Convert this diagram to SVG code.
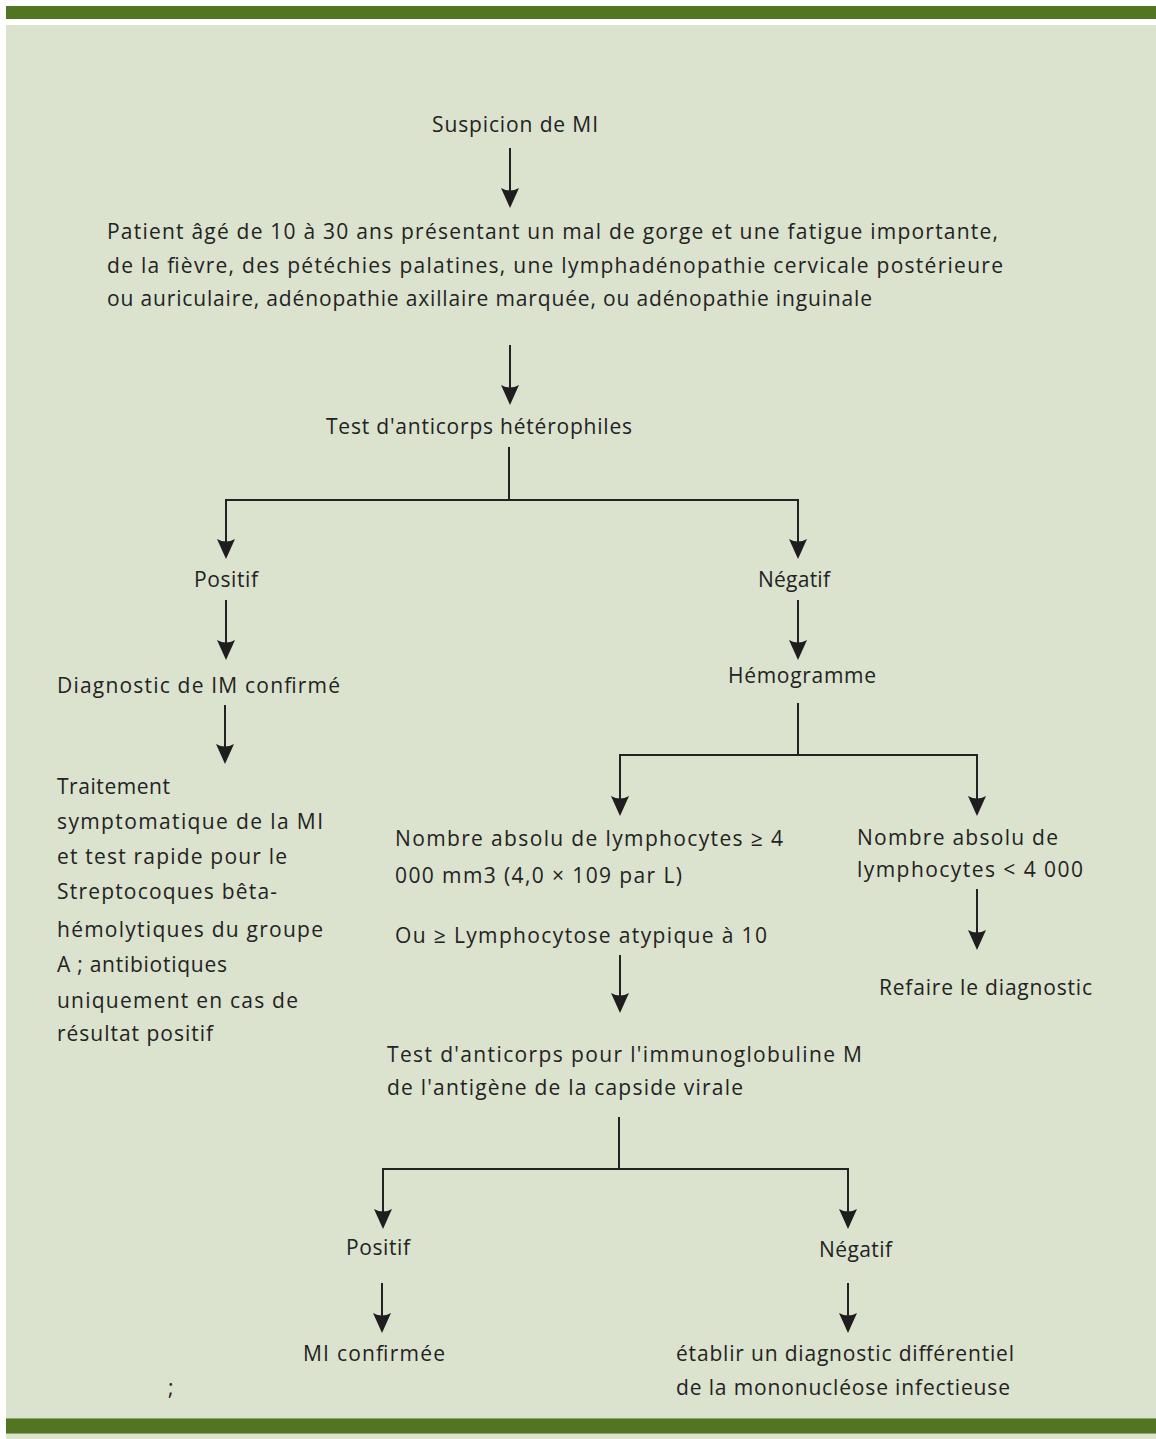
<svg xmlns="http://www.w3.org/2000/svg" width="1156" height="1439" viewBox="0 0 1156 1439">
<style>
  text { font-family: "Open Sans", "Liberation Sans", sans-serif; font-size: 21px; fill: #232323; }
  .ln { stroke: #222; stroke-width: 2; fill: none; }
  .ah { fill: #1e1e1e; }
</style>
<defs>
  <path id="head" d="M-9,-20 Q0,-15 9,-20 L0,0 Z"/>
</defs>
<rect x="0" y="0" width="1156" height="1439" fill="#ffffff"/>
<rect x="6" y="25" width="1150" height="1414" fill="#dbe2cd"/>
<rect x="6" y="6" width="1150" height="13" fill="#517521"/>
<rect x="6" y="1418" width="1150" height="16" fill="#517521"/>
<line x1="6" y1="1418.5" x2="1156" y2="1418.5" stroke="#8ea46c" stroke-width="1"/>
<line x1="6" y1="1433.5" x2="1156" y2="1433.5" stroke="#8ea46c" stroke-width="1"/>

<g id="connectors">
  <line class="ln" x1="510" y1="148" x2="510" y2="192"/>
  <use href="#head" class="ah" x="510" y="208"/>
  <line class="ln" x1="510" y1="345" x2="510" y2="389"/>
  <use href="#head" class="ah" x="510" y="405"/>
  <polyline class="ln" points="509,447 509,500"/>
  <polyline class="ln" points="226,543 226,500 798,500 798,543"/>
  <use href="#head" class="ah" x="226" y="559"/>
  <use href="#head" class="ah" x="798" y="559"/>
  <line class="ln" x1="226" y1="600" x2="226" y2="644"/>
  <use href="#head" class="ah" x="226" y="660"/>
  <line class="ln" x1="798" y1="600" x2="798" y2="644"/>
  <use href="#head" class="ah" x="798" y="660"/>
  <line class="ln" x1="225" y1="705" x2="225" y2="748"/>
  <use href="#head" class="ah" x="225" y="764"/>
  <polyline class="ln" points="798,703 798,755"/>
  <polyline class="ln" points="620,800 620,755 977,755 977,800"/>
  <use href="#head" class="ah" x="620" y="816"/>
  <use href="#head" class="ah" x="977" y="816"/>
  <line class="ln" x1="977" y1="889" x2="977" y2="934"/>
  <use href="#head" class="ah" x="977" y="950"/>
  <line class="ln" x1="620" y1="955" x2="620" y2="997"/>
  <use href="#head" class="ah" x="620" y="1013"/>
  <polyline class="ln" points="619,1117 619,1169"/>
  <polyline class="ln" points="383,1213 383,1169 848,1169 848,1213"/>
  <use href="#head" class="ah" x="383" y="1229"/>
  <use href="#head" class="ah" x="848" y="1229"/>
  <line class="ln" x1="382" y1="1283" x2="382" y2="1317"/>
  <use href="#head" class="ah" x="382" y="1333"/>
  <line class="ln" x1="848" y1="1283" x2="848" y2="1317"/>
  <use href="#head" class="ah" x="848" y="1333"/>
</g>

<g id="n-suspicion"><text x="432" y="132" textLength="166" lengthAdjust="spacing">Suspicion de MI</text></g>
<g id="n-patient">
  <text x="107" y="239" textLength="891" lengthAdjust="spacing">Patient  âgé  de 10 à 30 ans présentant  un mal de gorge  et une fatigue  importante,</text>
  <text x="107" y="273" textLength="896" lengthAdjust="spacing">de la fièvre, des pétéchies palatines,  une lymphadénopathie  cervicale postérieure</text>
  <text x="107" y="306" textLength="765" lengthAdjust="spacing">ou auriculaire,  adénopathie axillaire marquée, ou adénopathie inguinale</text>
</g>
<g id="n-test-hetero"><text x="326" y="434" textLength="306" lengthAdjust="spacing">Test d'anticorps hétérophiles</text></g>
<g id="n-positif1"><text x="194" y="587" textLength="64" lengthAdjust="spacing">Positif</text></g>
<g id="n-negatif1"><text x="758" y="587" textLength="72" lengthAdjust="spacing">Négatif</text></g>
<g id="n-diag-confirme"><text x="57" y="693" textLength="283" lengthAdjust="spacing">Diagnostic  de IM confirmé</text></g>
<g id="n-hemogramme"><text x="728" y="683" textLength="148" lengthAdjust="spacing">Hémogramme</text></g>
<g id="n-traitement">
  <text x="57" y="794" textLength="113" lengthAdjust="spacing">Traitement</text>
  <text x="57" y="829" textLength="266" lengthAdjust="spacing">symptomatique  de la MI</text>
  <text x="57" y="864" textLength="230" lengthAdjust="spacing">et test rapide pour le</text>
  <text x="57" y="899" textLength="220" lengthAdjust="spacing">Streptocoques  bêta-</text>
  <text x="57" y="937" textLength="266" lengthAdjust="spacing">hémolytiques  du groupe</text>
  <text x="57" y="972" textLength="170" lengthAdjust="spacing">A ; antibiotiques</text>
  <text x="57" y="1008" textLength="241" lengthAdjust="spacing">uniquement  en cas de</text>
  <text x="57" y="1041" textLength="156" lengthAdjust="spacing">résultat  positif</text>
</g>
<g id="n-lympho-sup">
  <text x="395" y="846" textLength="388" lengthAdjust="spacing">Nombre  absolu  de lymphocytes  ≥ 4</text>
  <text x="395" y="883" textLength="287" lengthAdjust="spacing">000 mm3  (4,0 × 109 par L)</text>
  <text x="395" y="943" textLength="372" lengthAdjust="spacing">Ou ≥ Lymphocytose  atypique  à 10</text>
</g>
<g id="n-lympho-inf">
  <text x="857" y="845" textLength="201" lengthAdjust="spacing">Nombre  absolu  de</text>
  <text x="857" y="877" textLength="226" lengthAdjust="spacing">lymphocytes  &lt; 4 000</text>
</g>
<g id="n-refaire"><text x="879" y="995" textLength="213" lengthAdjust="spacing">Refaire  le diagnostic</text></g>
<g id="n-test-igm">
  <text x="387" y="1062" textLength="475" lengthAdjust="spacing">Test d'anticorps  pour l'immunoglobuline  M</text>
  <text x="387" y="1095" textLength="356" lengthAdjust="spacing">de l'antigène  de la capside  virale</text>
</g>
<g id="n-positif2"><text x="346" y="1255" textLength="64" lengthAdjust="spacing">Positif</text></g>
<g id="n-negatif2"><text x="819" y="1257" textLength="73" lengthAdjust="spacing">Négatif</text></g>
<g id="n-mi-confirmee"><text x="303" y="1361" textLength="142" lengthAdjust="spacing">MI confirmée</text></g>
<g id="n-diff">
  <text x="676" y="1361" textLength="338" lengthAdjust="spacing">établir un diagnostic différentiel</text>
  <text x="676" y="1395" textLength="334" lengthAdjust="spacing">de la mononucléose infectieuse</text>
</g>
<g id="n-semicolon"><text x="168" y="1395">;</text></g>
</svg>
